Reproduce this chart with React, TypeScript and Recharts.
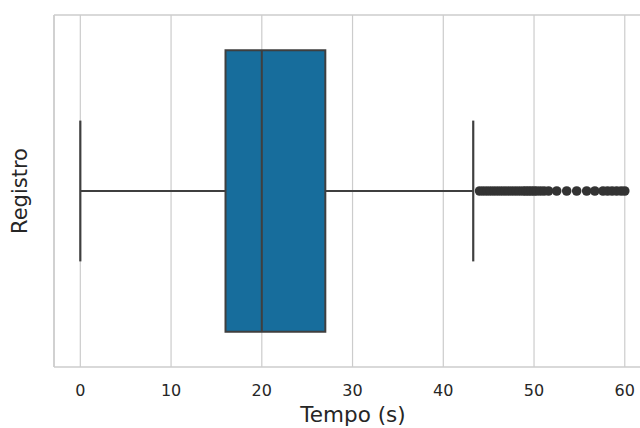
import { CartesianGrid, ComposedChart, Label, ReferenceArea, ReferenceLine, Scatter, XAxis, YAxis } from "recharts";

const xTicks = [0, 10, 20, 30, 40, 50, 60];
const whiskerLow = 0;
const q1 = 16;
const median = 20;
const q3 = 27;
const whiskerHigh = 43.3;
const outliers = [
  44, 44.4, 44.8, 45.2, 45.6, 46, 46.4, 46.8, 47.2, 47.6, 48, 48.4, 48.8, 49.1, 49.4, 49.7, 50, 50.3, 50.7, 51.1, 51.6,
  52.5, 53.6, 54.7, 55.8, 56.7, 57.6, 58.1, 58.6, 59.1, 59.6, 60,
];

const font = "'DejaVu Sans', sans-serif";
const lineColor = "#3f3f3f";
const gridColor = "#cccccc";

export default function App() {
  const points = outliers.map((x) => ({ x, y: 0 }));
  return (
    <div style={{ position: "absolute", left: 0, top: 0, width: 640, height: 428, overflow: "hidden", background: "#fff" }}>
      <ComposedChart width={700} height={428} margin={{ top: 15, right: 48, left: 0, bottom: 0 }}>
        <CartesianGrid horizontal={false} stroke={gridColor} strokeWidth={1.2} />
        <XAxis
          type="number"
          dataKey="x"
          domain={[-2.9, 63]}
          ticks={xTicks}
          height={61}
          tickLine={false}
          tickSize={6}
          tickMargin={12}
          axisLine={{ stroke: gridColor, strokeWidth: 1.5 }}
          tick={{ fill: "#262626", fontSize: 16, fontFamily: font }}
          allowDataOverflow
        >
          <Label value="Tempo (s)" position="insideBottom" offset={6} style={{ fill: "#262626", fontSize: 21.5, fontFamily: font }} />
        </XAxis>
        <YAxis
          type="number"
          dataKey="y"
          domain={[-0.5, 0.5]}
          width={54}
          tick={false}
          tickLine={false}
          axisLine={{ stroke: gridColor, strokeWidth: 1.5 }}
        >
          <Label
            content={({ viewBox }: any) => {
              const cx = viewBox.x + 19.5;
              const cy = viewBox.y + viewBox.height / 2;
              return (
                <text
                  x={cx}
                  y={cy}
                  transform={`rotate(-90, ${cx}, ${cy})`}
                  textAnchor="middle"
                  dominantBaseline="central"
                  fill="#262626"
                  fontSize={21}
                  fontFamily={font}
                >
                  Registro
                </text>
              );
            }}
          />
        </YAxis>
        <ReferenceLine y={0.5} stroke={gridColor} strokeWidth={1.5} />
        <ReferenceLine segment={[{ x: whiskerLow, y: 0 }, { x: q1, y: 0 }]} stroke={lineColor} strokeWidth={2.2} />
        <ReferenceLine segment={[{ x: q3, y: 0 }, { x: whiskerHigh, y: 0 }]} stroke={lineColor} strokeWidth={2.2} />
        <ReferenceLine segment={[{ x: whiskerLow, y: -0.2 }, { x: whiskerLow, y: 0.2 }]} stroke={lineColor} strokeWidth={2.2} />
        <ReferenceLine segment={[{ x: whiskerHigh, y: -0.2 }, { x: whiskerHigh, y: 0.2 }]} stroke={lineColor} strokeWidth={2.2} />
        <ReferenceArea x1={q1} x2={q3} y1={-0.4} y2={0.4} fill="#176d9c" fillOpacity={1} stroke={lineColor} strokeWidth={2} />
        <ReferenceLine segment={[{ x: median, y: -0.4 }, { x: median, y: 0.4 }]} stroke={lineColor} strokeWidth={2} />
        <Scatter
          data={points}
          dataKey="y"
          fill={lineColor}
          isAnimationActive={false}
          shape={(p: any) => <circle cx={p.cx} cy={p.cy} r={4.8} fill="#333333" />}
        />
      </ComposedChart>
    </div>
  );
}
